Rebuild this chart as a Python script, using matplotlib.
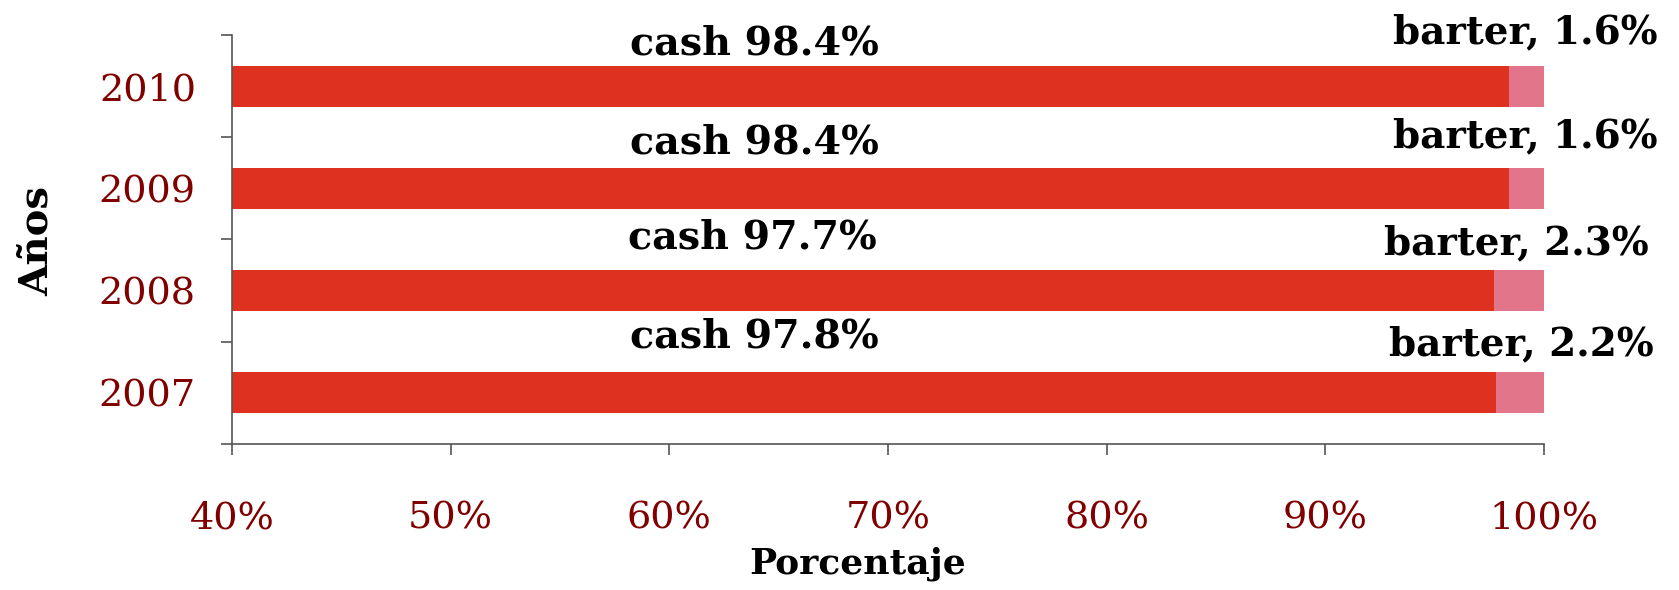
import matplotlib
matplotlib.use("Agg")
import matplotlib.pyplot as plt
import numpy as np

# data
years = ["2007", "2008", "2009", "2010"]
cash = [97.8, 97.7, 98.4, 98.4]
barter = [2.2, 2.3, 1.6, 1.6]

# where the labels sit (x in %, y offset above the bar centre in category units)
cash_lbl_x = [63.9, 63.8, 63.9, 63.9]
cash_lbl_dy = [0.55, 0.52, 0.45, 0.42]
barter_lbl_x = [105.0, 104.8, 105.2, 105.2]
barter_lbl_dy = [0.47, 0.46, 0.51, 0.53]

cash_col = "#DF3120"
barter_col = "#E2758A"
tick_col = "#800000"

plt.rcParams["font.family"] = ["DejaVu Serif"]

fig = plt.figure(figsize=(16.79, 5.90), dpi=100)
ax = fig.add_axes([0.1382, 0.2475, 0.7814, 0.6932])

y = np.arange(len(years))
ax.barh(y, cash, left=0, height=0.4, color=cash_col)
ax.barh(y, barter, left=cash, height=0.4, color=barter_col)

for i in range(len(years)):
    ax.text(cash_lbl_x[i], y[i] + cash_lbl_dy[i], "cash %.1f%%" % cash[i],
            ha="center", va="center", fontsize=28.5, fontweight="bold", clip_on=False)
    ax.text(barter_lbl_x[i], y[i] + barter_lbl_dy[i], "barter, %.1f%%" % barter[i],
            ha="right", va="center", fontsize=28, fontweight="bold", clip_on=False)

ax.set_xlim(40, 100)
ax.set_ylim(-0.5, 3.5)
ax.set_xticks(np.arange(40, 101, 10))
ax.set_xticklabels(["%d%%" % v for v in range(40, 101, 10)])
ax.set_yticks(y)
ax.set_yticklabels(years)
ax.set_yticks(np.arange(-0.5, 3.6, 1), minor=True)

for s in ["top", "right"]:
    ax.spines[s].set_visible(False)
for s in ["left", "bottom"]:
    ax.spines[s].set_color("#555555")
    ax.spines[s].set_linewidth(1.2)

ax.tick_params(axis="y", which="major", length=0, pad=26, labelsize=27.5, labelcolor=tick_col)
ax.tick_params(axis="y", which="minor", length=8, width=1.2, color="#555555")
ax.tick_params(axis="x", which="major", length=8, width=1.2, color="#555555",
               pad=33, labelsize=27.5, labelcolor=tick_col)

ax.set_xlabel("Porcentaje", fontsize=26, fontweight="bold")
ax.xaxis.label.set_va("center")
ax.xaxis.set_label_coords(0.477, -0.293)
ax.set_ylabel("Años", fontsize=29, fontweight="bold")
ax.yaxis.label.set_va("center")
ax.yaxis.set_label_coords(-0.149, 0.496)

plt.savefig("out.png", dpi=100)
plt.close()
